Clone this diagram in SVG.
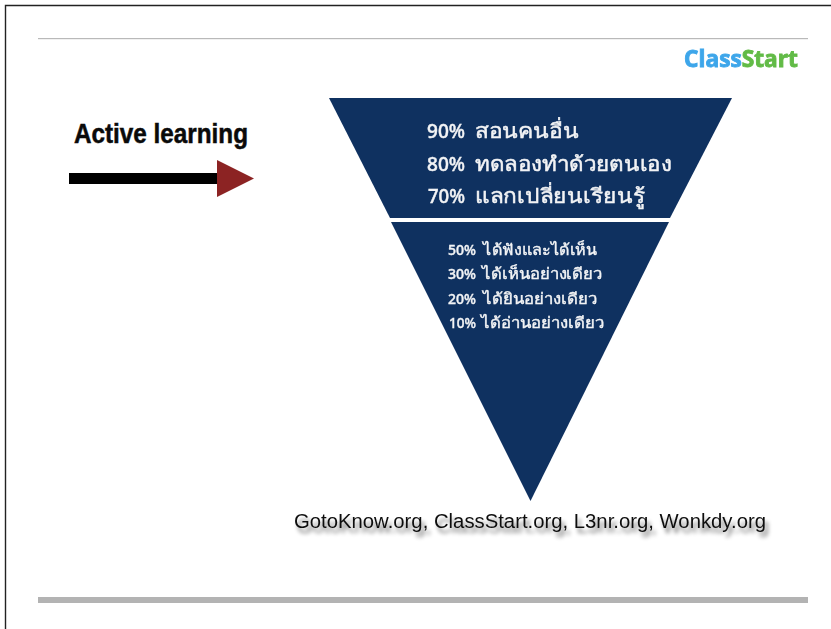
<svg xmlns="http://www.w3.org/2000/svg" width="831" height="629" viewBox="0 0 831 629">
<defs>
<filter id="shadow" x="-5%" y="-60%" width="110%" height="260%"><feGaussianBlur in="SourceAlpha" stdDeviation="2.2"/><feOffset dx="3" dy="5"/><feComponentTransfer><feFuncA type="linear" slope="0.55"/></feComponentTransfer><feMerge><feMergeNode/><feMergeNode in="SourceGraphic"/></feMerge></filter>
<filter id="soft" x="-5%" y="-20%" width="110%" height="140%"><feGaussianBlur stdDeviation="0.35"/></filter>
</defs>
<style>
.th{font-family:"Noto Sans","DejaVu Sans",sans-serif;fill:#f2f3f5;stroke:#f2f3f5;filter:url(#soft)}
.big{font-size:20px;font-weight:500;stroke-width:0.45}
.small{font-size:15px;font-weight:500;stroke-width:0.4}
</style>
<rect width="831" height="629" fill="#fff"/>
<g id="frame">
<path d="M5.500 629V5.500H831" fill="none" stroke="#222" stroke-width="1.4"/>
<rect x="38" y="38" width="770" height="1.2" fill="#b9b9b9"/>
<rect x="38" y="597" width="770" height="6" fill="#b3b3b3"/>
</g>
<g id="logo" font-family="'Open Sans','Noto Sans',sans-serif" font-weight="700" font-size="23" stroke-width="0.9" filter="url(#soft)">
<text x="684" y="67" textLength="114" lengthAdjust="spacingAndGlyphs"><tspan fill="#3ea6ea" stroke="#3ea6ea">Class</tspan><tspan fill="#62bb46" stroke="#62bb46">Start</tspan></text>
</g>
<g id="active-learning">
<text x="74" y="143" font-family="Liberation Sans,Arial,sans-serif" font-weight="700" font-size="27" fill="#0a0a0a" stroke="#0a0a0a" stroke-width="0.5" textLength="174" lengthAdjust="spacingAndGlyphs">Active learning</text>
</g>
<g id="connectors">
<rect x="69" y="173" width="148" height="11" fill="#000"/>
<polygon points="217,160 254,178.500 217,197" fill="#8c2323"/>
</g>
<g id="pyramid-top">
<polygon points="329,98 732,98 670,218 390,218" fill="#0f3160"/>
<g class="th big">
<text y="138"><tspan x="427" textLength="38" lengthAdjust="spacingAndGlyphs">90%</tspan> <tspan x="475" textLength="104" lengthAdjust="spacingAndGlyphs">สอนคนอื่น</tspan></text>
<text y="171"><tspan x="427" textLength="38" lengthAdjust="spacingAndGlyphs">80%</tspan> <tspan x="475" textLength="197" lengthAdjust="spacingAndGlyphs">ทดลองทำด้วยตนเอง</tspan></text>
<text y="203"><tspan x="428" textLength="37" lengthAdjust="spacingAndGlyphs">70%</tspan> <tspan x="475" textLength="170" lengthAdjust="spacingAndGlyphs">แลกเปลี่ยนเรียนรู้</tspan></text>
</g>
</g>
<g id="pyramid-bottom">
<polygon points="391,222 669,222 530.500,501" fill="#0f3160"/>
<g class="th small">
<text y="255"><tspan x="448" textLength="28" lengthAdjust="spacingAndGlyphs">50%</tspan> <tspan x="483" textLength="114" lengthAdjust="spacingAndGlyphs">ได้ฟังและได้เห็น</tspan></text>
<text y="279"><tspan x="448" textLength="28" lengthAdjust="spacingAndGlyphs">30%</tspan> <tspan x="482" textLength="120" lengthAdjust="spacingAndGlyphs">ได้เห็นอย่างเดียว</tspan></text>
<text y="304"><tspan x="448" textLength="28" lengthAdjust="spacingAndGlyphs">20%</tspan> <tspan x="483" textLength="114" lengthAdjust="spacingAndGlyphs">ได้ยินอย่างเดียว</tspan></text>
<text y="328"><tspan x="449" textLength="27" lengthAdjust="spacingAndGlyphs">10%</tspan> <tspan x="481" textLength="123" lengthAdjust="spacingAndGlyphs">ได้อ่านอย่างเดียว</tspan></text>
</g>
</g>
<g id="credit">
<text x="294" y="528" font-family="Liberation Sans,Arial,sans-serif" font-size="20" fill="#111" textLength="472" lengthAdjust="spacingAndGlyphs" filter="url(#shadow)">GotoKnow.org, ClassStart.org, L3nr.org, Wonkdy.org</text>
</g>
</svg>
